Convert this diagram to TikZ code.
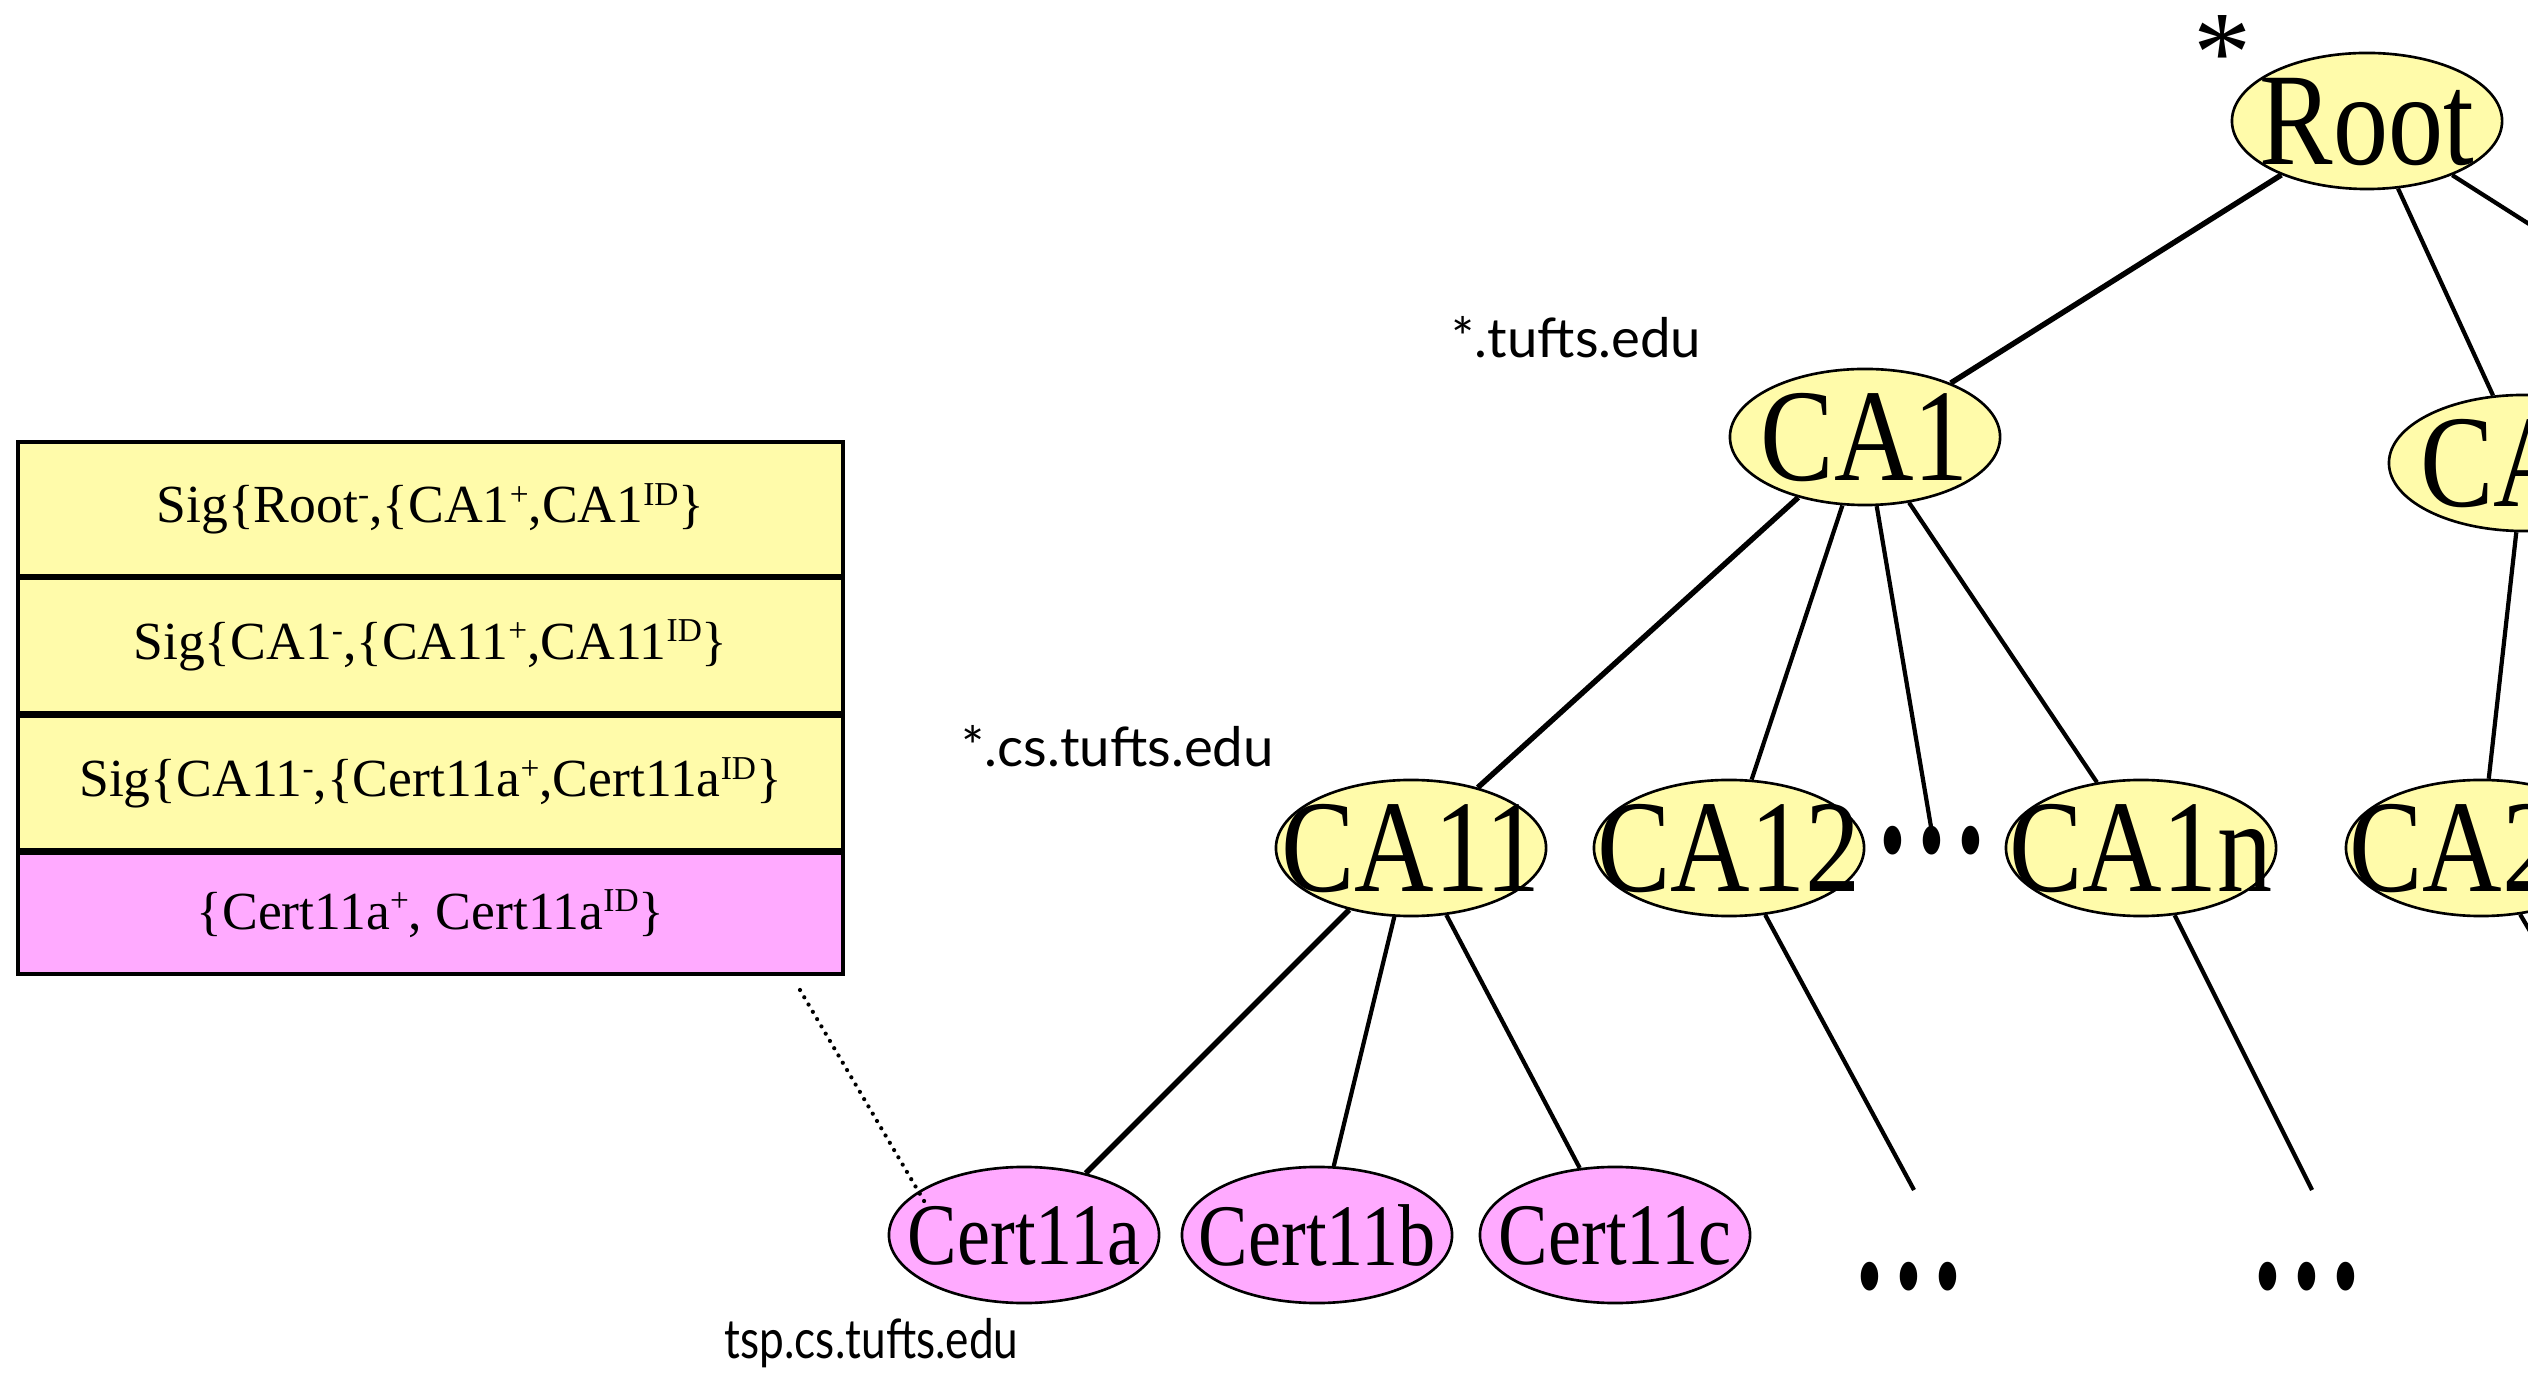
\documentclass[tikz,border=0pt]{standalone}
\usepackage{fontspec}
\setmainfont{Liberation Serif}
\newfontfamily\labelfont{Lato}
\usetikzlibrary{shapes.geometric}
\definecolor{cayellow}{HTML}{FFFBAA}
\definecolor{certpink}{HTML}{FFAAFF}
\newcommand{\bigtxt}[2]{\makebox[0pt]{\raisebox{-0.5\height}[0pt][0pt]{\scalebox{#1}[1.04]{#2}}}}
\newcommand{\supr}[1]{\raisebox{0.33em}{\fontsize{9.5}{9.5}\selectfont #1}}
\newcommand{\tridots}{\scalebox{0.85}[1.4]{.\kern4pt.\kern4pt.}}
\begin{document}
\begin{tikzpicture}[x=0.01cm,y=-0.01cm,
  tnode/.style={ellipse, draw, line width=0.75pt, minimum width=2.7cm, minimum height=1.36cm, inner sep=0pt},
  canode/.style={tnode, fill=cayellow, font=\fontsize{36}{36}\selectfont},
  certnode/.style={tnode, fill=certpink, font=\fontsize{24}{24}\selectfont},
  conn/.style={line width=1.2pt},
  pathconn/.style={line width=1.55pt},
  sigbox/.style={draw, line width=1.1pt, minimum width=8.25cm, inner sep=0pt, font=\fontsize{15.25}{18}\selectfont},
  lbl/.style={font=\labelfont\fontsize{15.5}{18}\selectfont, anchor=base west, inner sep=0pt},
  dotsnode/.style={font=\bfseries\fontsize{36}{36}\selectfont, anchor=base, inner sep=0pt}
]
\useasboundingbox (0,0) rectangle (2528,1374);
\clip (0,0) rectangle (2528,1374);

% signature boxes
\node[sigbox, fill=cayellow, minimum height=1.34cm] (b1) at (430.5,509) {Sig\{Root\supr{-},\{CA1\supr{+},CA1\supr{ID}\}};
\node[sigbox, fill=cayellow, minimum height=1.35cm] (b2) at (430.5,645.5) {Sig\{CA1\supr{-},\{CA11\supr{+},CA11\supr{ID}\}};
\node[sigbox, fill=cayellow, minimum height=1.34cm] (b3) at (430.5,783) {Sig\{CA11\supr{-},\{Cert11a\supr{+},Cert11a\supr{ID}\}};
\node[sigbox, fill=certpink, minimum height=1.21cm] (b4) at (430.5,913.5) {\{Cert11a\supr{+}, Cert11a\supr{ID}\}};

% tree nodes
\node[canode] (root) at (2367,121) {\bigtxt{0.87}{Root}};
\node[canode] (ca1) at (1865,437) {\bigtxt{0.87}{CA1}};
\node[canode] (ca2) at (2524,463) {\bigtxt{0.87}{CA2}};
\node[canode] (ca11) at (1411,848) {\bigtxt{0.87}{CA11}};
\node[canode] (ca12) at (1729,848) {\bigtxt{0.87}{CA12}};
\node[canode] (ca1n) at (2141,848) {\bigtxt{0.87}{CA1n}};
\node[canode] (ca2x) at (2481,848) {\bigtxt{0.87}{CA21}};
\node[certnode] (c11a) at (1024,1235) {\bigtxt{0.88}{Cert11a}};
\node[certnode] (c11b) at (1317,1235) {\bigtxt{0.88}{Cert11b}};
\node[certnode] (c11c) at (1615,1235) {\bigtxt{0.88}{Cert11c}};

% ellipsis dots
\node[dotsnode] (dmid) at (1932,853) {\tridots};
\node[dotsnode] (d12) at (1909,1288) {\tridots};
\node[dotsnode] (d1n) at (2307,1288) {\tridots};

% labels
\node[font=\fontsize{33}{33}\selectfont, anchor=base, inner sep=0pt] (star) at (2222,92) {*};
\node[lbl] (l1) at (1451,358) {*.tufts.edu};
\node[lbl] (l2) at (961,767) {*.cs.tufts.edu};
\node[lbl] (l3) at (724,1358) {\scalebox{0.81}[1]{tsp.cs.tufts.edu}};

% free ends
\coordinate (offR) at (2680,320);
\coordinate (offB) at (2600,1050);
\coordinate (emid) at (1931,827);
\coordinate (e12) at (1914,1190);
\coordinate (e1n) at (2312,1190);
\coordinate (dA) at (800,990);
\coordinate (dB) at (927,1206);

% connectors
\draw[pathconn] (root) -- (ca1);
\draw[conn] (root) -- (ca2);
\draw[conn] (root) -- (offR);
\draw[pathconn] (ca1) -- (ca11);
\draw[conn] (ca1) -- (ca12);
\draw[conn] (ca1) -- (emid);
\draw[conn] (ca1) -- (ca1n);
\draw[conn] (ca2) -- (ca2x);
\draw[conn] (ca2x) -- (offB);
\draw[pathconn] (ca11) -- (c11a);
\draw[conn] (ca11) -- (c11b);
\draw[conn] (ca11) -- (c11c);
\draw[conn] (ca12) -- (e12);
\draw[conn] (ca1n) -- (e1n);
\draw[line width=1.2pt, line cap=round, dash pattern=on 0pt off 2.4pt] (dA) -- (dB);
\end{tikzpicture}
\end{document}
